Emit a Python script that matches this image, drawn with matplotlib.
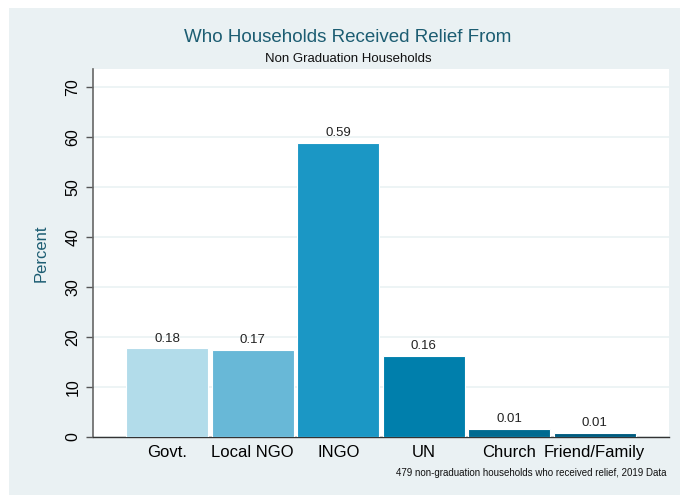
import numpy as np
import matplotlib.pyplot as plt
from matplotlib.patches import Rectangle

# data
cats = ['Govt.', 'Local NGO', 'INGO', 'UN', 'Church', 'Friend/Family']
pct = [17.8, 17.5, 58.8, 16.3, 1.7, 0.9]
lbls = ['0.18', '0.17', '0.59', '0.16', '0.01', '0.01']
colors = ['#b2dcea', '#68b8d7', '#1b97c5', '#007fac', '#006a90', '#005b7f']
yticks = [0, 10, 20, 30, 40, 50, 60, 70]

plt.rcParams['font.family'] = ['Liberation Sans', 'DejaVu Sans']

fig = plt.figure(figsize=(6.8, 4.95), dpi=100)
fig.patch.set_facecolor('white')
# outer stata-like panel
fig.patches.append(Rectangle((9/680, 0), 1, 1 - 8/495, transform=fig.transFigure,
                             facecolor='#eaf1f3', edgecolor='none', zorder=-10))

ax = fig.add_axes([93/680, 1 - 437/495, (669 - 93)/680, (437 - 69)/495])
ax.set_facecolor('white')

x = np.arange(1, len(cats) + 1)
ax.bar(x, pct, width=0.96, color=colors, edgecolor='white', linewidth=0.8, zorder=3)
for xi, v, l in zip(x, pct, lbls):
    ax.text(xi, v + 0.7, l, ha='center', va='bottom', fontsize=9.5, color='#222222', zorder=4)

ax.set_xlim(0.13, 6.87)
ax.set_ylim(0, 73.6)
ax.set_yticks(yticks)
ax.set_yticklabels([str(t) for t in yticks], rotation=90, va='center', fontsize=11.5)
ax.set_xticks(x)
ax.set_xticklabels(cats, fontsize=12)
ax.tick_params(axis='x', length=0, pad=6)
ax.tick_params(axis='y', length=5, width=1, color='#555555', pad=4)
ax.grid(axis='y', color='#eaf2f3', linewidth=1.2, zorder=0)

for s in ['top', 'right']:
    ax.spines[s].set_visible(False)
ax.spines['left'].set_color('#666666')
ax.spines['left'].set_linewidth(1.2)
ax.spines['bottom'].set_color('#333333')
ax.spines['bottom'].set_linewidth(1.0)

ax.set_ylabel('Percent', color='#1c5d72', fontsize=12, labelpad=12)

fig.text(348/680, 1 - 37/495, 'Who Households Received Relief From', ha='center', va='center',
         fontsize=13.5, color='#1c5d72')
fig.text(348/680, 1 - 59/495, 'Non Graduation Households', ha='center', va='center',
         fontsize=9.5, color='#111111')
fig.text(667/680, 1 - 473/495, '479 non-graduation households who received relief, 2019 Data',
         ha='right', va='center', fontsize=7, color='#111111')

fig.savefig('out.png', dpi=100)
